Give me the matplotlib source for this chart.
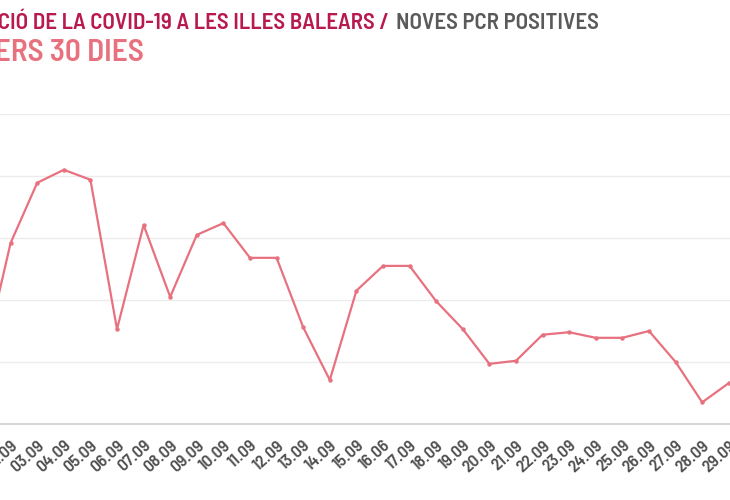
"""Noves PCR positives a les Illes Balears, darrers 30 dies (line chart)."""

import matplotlib
matplotlib.use("Agg")
import matplotlib.pyplot as plt
import numpy as np

dates = ["01.09", "02.09", "03.09", "04.09", "05.09", "06.09", "07.09", "08.09",
         "09.09", "10.09", "11.09", "12.09", "13.09", "14.09", "15.09", "16.06",
         "17.09", "18.09", "19.09", "20.09", "21.09", "22.09", "23.09", "24.09",
         "25.09", "26.09", "27.09", "28.09", "29.09"]
pcr_positives = [106, 292, 389, 410, 394, 153, 321, 205, 305, 324, 268, 268, 156,
                 71, 215, 255, 255, 198, 153, 97, 102, 144, 148, 139, 139, 150,
                 100, 35, 66]
y_ticks = [0, 100, 200, 300, 400, 500]

W, H = 730, 500
FONT = ["Barlow Semi Condensed", "DejaVu Sans"]
LINE = "#e8717f"

fig = plt.figure(figsize=(W / 100, H / 100), dpi=100)
# the plot area runs past both edges of the picture (cropped screenshot)
left_px, right_px = -42.6, 782.0
ax = fig.add_axes([left_px / W, 76 / H, (right_px - left_px) / W, 310 / H])

x = np.arange(len(dates))
ax.plot(x, pcr_positives, color=LINE, lw=1.6, marker="o", ms=3.2,
        markeredgewidth=0, zorder=3)

ax.set_xlim(-1, 30)
ax.set_ylim(0, 500)
ax.set_yticks(y_ticks)
ax.set_yticklabels([])
ax.tick_params(axis="y", length=0)
ax.grid(axis="y", color="#ececec", lw=1)
ax.set_axisbelow(True)
for s in ["top", "right", "left"]:
    ax.spines[s].set_visible(False)
ax.spines["bottom"].set_color("#d0d0d0")
ax.spines["bottom"].set_linewidth(1.2)

ax.set_xticks(x)
ax.set_xticklabels(dates, rotation=42, ha="right", rotation_mode="anchor",
                   family=FONT, fontweight=600, fontsize=12.5, color="#505050")
ax.tick_params(axis="x", length=0, pad=10)

# title, its start cut off at the left edge
fig.text(389 / W, 1 - 29 / H, "EVOLUCIÓ DE LA COVID-19 A LES ILLES BALEARS /",
         ha="right", va="baseline", family=FONT, fontweight=600,
         fontsize=16.5, color="#b8194f")
fig.text(396 / W, 1 - 29 / H, "NOVES PCR POSITIVES", ha="left", va="baseline",
         family=FONT, fontweight=600, fontsize=16.5, color="#5a5a5a")
fig.text(144 / W, 1 - 61 / H, "DARRERS 30 DIES", ha="right", va="baseline",
         family=FONT, fontweight=600, fontsize=22.5, color="#e8717f")

fig.savefig("out.png", dpi=100)
